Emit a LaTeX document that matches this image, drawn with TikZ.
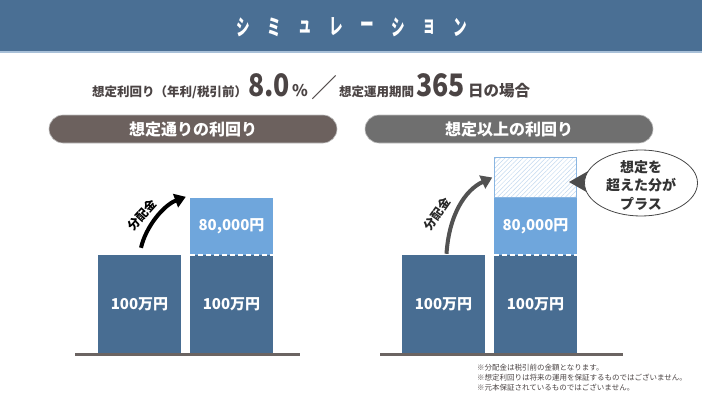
\documentclass[tikz,border=0pt]{standalone}
\usepackage{fontspec}
\setmainfont{Noto Sans CJK JP}
\usetikzlibrary{arrows.meta,patterns.meta,shapes.geometric}

\definecolor{hdblue}{HTML}{4A6F94}
\definecolor{hdline}{HTML}{A8C0D8}
\definecolor{txtgray}{HTML}{4B4444}
\definecolor{pillbrown}{HTML}{6C615E}
\definecolor{pillgray}{HTML}{6F6F6F}
\definecolor{bardark}{HTML}{486D92}
\definecolor{barlight}{HTML}{6FA6DC}
\definecolor{hatchblue}{HTML}{C2D8EE}
\definecolor{hatchline}{HTML}{8AB6E2}
\definecolor{groundgray}{HTML}{6B6462}

\newcommand{\fs}[1]{\fontsize{#1}{#1}\selectfont}

\begin{document}
\begin{tikzpicture}[x=1pt, y=-1pt, every node/.style={inner sep=0pt},
  pill/.style={rounded corners=14pt, minimum width=288pt, minimum height=28pt, text=white, font=\fs{16}\bfseries, draw=black!25, line width=0.6pt},
  bar/.style={fill=bardark, minimum width=83pt, minimum height=98pt, text=white, font=\fs{15}\bfseries},
  barplus/.style={fill=barlight, minimum width=83pt, minimum height=57pt, text=white, font=\fs{15}\bfseries},
  ground/.style={groundgray, line width=3pt},
  arr/.style={line width=4pt, -{Triangle[length=11pt,width=14pt]}},
  lbl/.style={font=\fs{12}\bfseries},
  note/.style={anchor=west, text=txtgray, font=\fs{7.5}}]
\useasboundingbox (0,0) rectangle (702,396);

% header
\fill[hdblue] (0,0) rectangle (702,51);
\fill[hdline] (0,51) rectangle (702,53);
\foreach \c [count=\i from 0] in {シ,ミ,ュ,レ,ー,シ,ョ,ン}
  {\node[white, xscale=0.62, font=\fs{22}\bfseries] (h\i) at ({243+31*\i},27) {\c};}

% condition line
\begin{scope}[every node/.style={inner sep=0pt, anchor=base west, text=txtgray}]
\node[font=\fs{12.5}\bfseries] (c1) at (92,96) {想定利回り（年利/税引前）};
\node[font=\fs{31}\bfseries, xscale=0.86, anchor=base east] (c2) at (290,96) {8.0};
\node[font=\fs{16}\bfseries] (c3) at (292,96) {\%};
\node[font=\fs{26}] (c4) at (311,98) {／};
\node[font=\fs{12.5}\bfseries] (c5) at (339,96) {想定運用期間};
\node[font=\fs{31}\bfseries, xscale=0.86, anchor=base east] (c6) at (465,96) {365};
\node[font=\fs{15.5}\bfseries] (c7) at (468,96) {日の場合};
\end{scope}

% headings
\node[pill, fill=pillbrown] (pl) at (193,129) {想定通りの利回り};
\node[pill, fill=pillgray] (pr) at (509,129) {想定以上の利回り};

% left chart
\node[bar] (a1) at (139.5,304) {100万円};
\node[bar] (a2) at (231.5,304) {100万円};
\node[barplus] (b2) at (231.5,226.5) {80,000円};
\draw[white, line width=1.5pt, dash pattern=on 5pt off 3pt] (a2.north west) -- (a2.north east);
\draw[ground] (75,354.3) -- (300,354.3);
\draw[arr, black] ([xshift=1.5pt,yshift=7pt]a1.north) .. controls (146,226) and (164,205) .. ([xshift=-4pt,yshift=1pt]b2.north west);
\node[lbl, rotate=48] (d1) at (142,215) {分配金};

% right chart
\node[bar] (a3) at (443.5,304) {100万円};
\node[bar] (a4) at (535.5,304) {100万円};
\node[barplus] (b4) at (535.5,226.5) {80,000円};
\node[draw=hatchline, line width=0.8pt, minimum width=82pt, minimum height=40pt,
  pattern={Lines[angle=45,distance=3.2pt,line width=0.5pt]}, pattern color=hatchblue] (p4) at (535.5,177.5) {};
\draw[white, line width=1.5pt, dash pattern=on 5pt off 3pt] (a4.north west) -- (a4.north east);
\draw[ground] (380,354.3) -- (623,354.3);
\draw[arr, black!68] ([xshift=3pt,yshift=1pt]a3.north) .. controls (449,215) and (465,190) .. ([xshift=-2pt]p4.west);
\node[lbl, black!85, rotate=55] (d2) at (437,214) {分配金};

% bubble
\fill[black!70] (569,182) -- (590,170) -- (590,194) -- cycle;
\node[ellipse, draw=black!72, fill=white, line width=0.8pt, minimum width=113pt, minimum height=66pt] (bub) at (641,183) {};
\node[align=center, text=black!80, font=\fontsize{14}{18.5}\selectfont\bfseries] (bt) at ([yshift=-2pt]bub.center) {想定を\\超えた分が\\プラス};

% notes
\node[note] (n1) at (477,368) {※分配金は税引前の金額となります。};
\node[note] (n2) at (477,378) {※想定利回りは将来の運用を保証するものではございません。};
\node[note] (n3) at (477,388) {※元本保証されているものではございません。};
\end{tikzpicture}
\end{document}
